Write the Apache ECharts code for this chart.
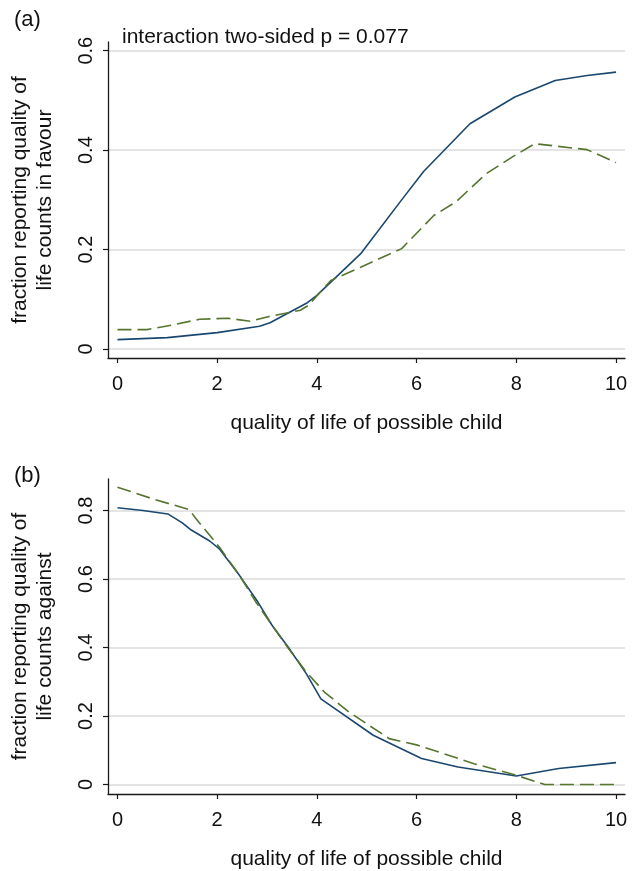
<!DOCTYPE html>
<html><head><meta charset="utf-8">
<script src="https://cdn.jsdelivr.net/npm/echarts@6/dist/echarts.min.js"></script>
<style>html,body{margin:0;padding:0;background:#fff}#c{width:634px;height:871px}</style>
</head><body><div id="c"></div>
<script>
// ---- data ----
const xTicks = [0, 2, 4, 6, 8, 10];
const yTicksA = [0, 0.2, 0.4, 0.6];
const yTicksB = [0, 0.2, 0.4, 0.6, 0.8];
const xTitle = 'quality of life of possible child';
const yTitleA = 'fraction reporting quality of\nlife counts in favour';
const yTitleB = 'fraction reporting quality of\nlife counts against';
const noteA = 'interaction two-sided p = 0.077';

// panel (a): solid (blue)
const aSolidX = [0, 1.0, 2.0, 2.85, 3.06, 3.79, 4.0, 4.89, 5.70, 6.14, 7.07, 7.97, 8.78, 9.42, 10];
const aSolidY = [0.019, 0.023, 0.033, 0.046, 0.053, 0.092, 0.108, 0.193, 0.300, 0.357, 0.453, 0.507, 0.540, 0.550, 0.557];
// panel (a): dashed (green)
const aDashX = [0, 0.59, 1.08, 1.65, 2.21, 2.66, 3.02, 3.67, 3.83, 4.28, 4.89, 5.70, 6.35, 6.79, 7.40, 7.93, 8.37, 9.42, 10];
const aDashY = [0.039, 0.039, 0.048, 0.060, 0.062, 0.056, 0.065, 0.078, 0.088, 0.138, 0.165, 0.202, 0.269, 0.296, 0.353, 0.387, 0.413, 0.401, 0.375];
// panel (b): solid (blue)
const bSolidX = [0, 0.51, 1.01, 1.30, 1.48, 1.85, 2.05, 2.45, 2.82, 3.10, 3.43, 3.79, 4.08, 5.13, 6.10, 6.83, 8.0, 8.85, 10];
const bSolidY = [0.808, 0.800, 0.790, 0.764, 0.743, 0.711, 0.687, 0.610, 0.532, 0.465, 0.400, 0.323, 0.250, 0.144, 0.076, 0.051, 0.025, 0.047, 0.064];
// panel (b): dashed (green)
const bDashX = [0, 0.75, 1.44, 1.56, 2.05, 2.45, 2.78, 3.10, 3.43, 3.79, 4.15, 4.64, 5.45, 6.02, 7.15, 8.0, 8.57, 10];
const bDashY = [0.868, 0.832, 0.803, 0.779, 0.692, 0.610, 0.532, 0.465, 0.397, 0.328, 0.270, 0.212, 0.134, 0.115, 0.061, 0.027, 0.0, 0.0];

const zip = (xs, ys) => xs.map((x, i) => [x, ys[i]]);

const FONT = 'Liberation Sans, Arial, Helvetica, sans-serif';
const BLUE = '#1a476f', GREEN = '#55752f', GRID = '#e4e4e4', AX = '#1a1a1a';

function xAxisCfg(gi) {
  return {
    type: 'value', gridIndex: gi, min: -0.19, max: 10.18,
    axisLine: { show: true, onZero: false, lineStyle: { color: AX, width: 1.3 } },
    axisTick: { show: true, length: 5, lineStyle: { color: AX, width: 1.2 }, customValues: xTicks },
    axisLabel: { customValues: xTicks, color: '#111', fontSize: 20, fontFamily: FONT, margin: 16 },
    splitLine: { show: false },
    name: xTitle, nameLocation: 'middle', nameGap: 55,
    nameTextStyle: { color: '#111', fontSize: 21, fontFamily: FONT }
  };
}
function yAxisCfg(gi, ticks, min, max, name) {
  return {
    type: 'value', gridIndex: gi, min: min, max: max,
    axisLine: { show: true, onZero: false, lineStyle: { color: AX, width: 1.3 } },
    axisTick: { show: true, length: 5, lineStyle: { color: AX, width: 1.2 }, customValues: ticks },
    axisLabel: { customValues: ticks, rotate: 90, color: '#111', fontSize: 20, fontFamily: FONT, margin: 12,
      formatter: v => (v === 0 ? '0' : String(Math.round(v * 10) / 10)) },
    splitLine: { show: true, lineStyle: { color: GRID, width: 2 } },
    name: name, nameLocation: 'middle', nameRotate: 90, nameGap: 50,
    nameTextStyle: { color: '#111', fontSize: 21, fontFamily: FONT, lineHeight: 25 }
  };
}

const chart = echarts.init(document.getElementById('c'), null, { renderer: 'canvas' });
chart.setOption({
  backgroundColor: '#fff',
  animation: false,
  textStyle: { fontFamily: FONT },
  title: [
    { text: '(a)', left: 9, top: 4, textStyle: { fontSize: 22, fontWeight: 'normal', color: '#111', fontFamily: FONT } },
    { text: '(b)', left: 9, top: 460, textStyle: { fontSize: 22, fontWeight: 'normal', color: '#111', fontFamily: FONT } },
    { text: noteA, left: 117, top: 22, textStyle: { fontSize: 21, fontWeight: 'normal', color: '#111', fontFamily: FONT } }
  ],
  grid: [
    { left: 106, right: 9, top: 42, bottom: 513 },
    { left: 106, right: 9, top: 479, bottom: 75.5 }
  ],
  xAxis: [xAxisCfg(0), xAxisCfg(1)],
  yAxis: [
    yAxisCfg(0, yTicksA, -0.018, 0.6175, yTitleA),
    yAxisCfg(1, yTicksB, -0.0276, 0.892, yTitleB)
  ],
  series: [
    { type: 'line', xAxisIndex: 0, yAxisIndex: 0, data: zip(aSolidX, aSolidY), showSymbol: false,
      lineStyle: { color: BLUE, width: 1.6 }, z: 3 },
    { type: 'line', xAxisIndex: 0, yAxisIndex: 0, data: zip(aDashX, aDashY), showSymbol: false,
      lineStyle: { color: GREEN, width: 1.6, type: [14, 6] }, z: 3 },
    { type: 'line', xAxisIndex: 1, yAxisIndex: 1, data: zip(bSolidX, bSolidY), showSymbol: false,
      lineStyle: { color: BLUE, width: 1.6 }, z: 3 },
    { type: 'line', xAxisIndex: 1, yAxisIndex: 1, data: zip(bDashX, bDashY), showSymbol: false,
      lineStyle: { color: GREEN, width: 1.6, type: [14, 6] }, z: 3 }
  ]
});
</script>
</body></html>
